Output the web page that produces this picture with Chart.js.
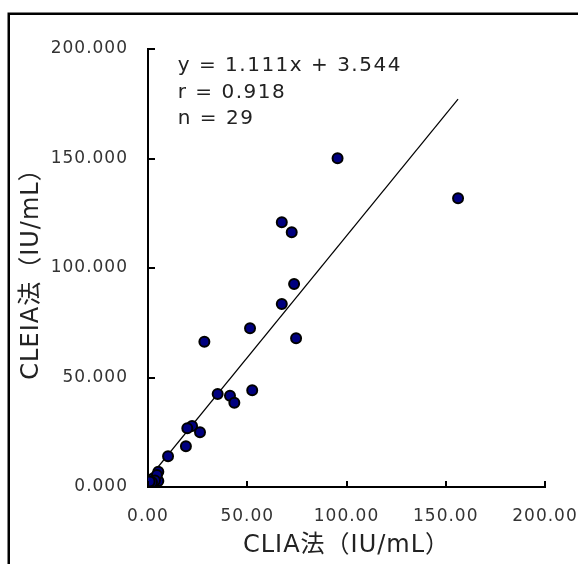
<!DOCTYPE html>
<html>
<head>
<meta charset="utf-8">
<script src="https://cdn.jsdelivr.net/npm/chart.js@4/dist/chart.umd.min.js"></script>
<style>
  html, body { margin: 0; padding: 0; background: #fff; }
  #wrap { width: 578px; height: 564px; position: relative; }
</style>
</head>
<body>
<div id="wrap"><canvas id="c" width="578" height="564"></canvas></div>
<script>
// ---- data ----
const clia  = [95.5, 156.2, 67.4, 72.4, 73.6, 67.4, 51.4, 74.6, 28.4, 52.5, 35.1, 41.3, 43.5, 22.2, 19.8, 26.2, 19.1, 10.1, 5.2, 5.2, 2.7, 1.0, 0.2, 4.5, 3.5, 1.5, 0.5, 2.0, 0.8];
const cleia = [150.1, 131.8, 120.9, 116.3, 92.7, 83.6, 72.5, 67.9, 66.3, 44.2, 42.5, 41.7, 38.5, 27.9, 26.8, 25.0, 18.6, 14.0, 7.0, 2.7, 4.0, 1.2, 0.2, 5.5, 3.0, 0.5, 0.8, 2.2, 2.5];
const slope = 1.111;
const intercept = 3.544;
const statLines = ['y = 1.111x + 3.544', 'r = 0.918', 'n = 29'];
const xTickLabels = ['0.00', '50.00', '100.00', '150.00', '200.00'];
const yTickLabels = ['0.000', '50.000', '100.000', '150.000', '200.000'];
const xTitle = 'CLIA法（IU/mL）';
const yTitle = 'CLEIA法（IU/mL）';

const points = clia.map((x, i) => ({ x: x, y: cleia[i] }));
const xMin = Math.min(...clia), xMax = Math.max(...clia);
const trend = [xMin, xMax].map(x => ({ x: x, y: slope * x + intercept }));

const FONT = "'DejaVu Sans', 'Noto Sans CJK JP', sans-serif";
const TXT = '#333333';

const decor = {
  id: 'decor',
  beforeUpdate(chart) { chart.ctx.letterSpacing = '1px'; },
  beforeDraw(chart) {
    const ctx = chart.ctx;
    ctx.save();
    ctx.fillStyle = '#fff';
    ctx.fillRect(0, 0, chart.width, chart.height);
    ctx.restore();
    ctx.letterSpacing = '1px';
  },
  afterDraw(chart) {
    const ctx = chart.ctx;
    const xs = chart.scales.x, ys = chart.scales.y;
    ctx.save();
    // inward tick marks
    ctx.strokeStyle = '#000';
    ctx.lineWidth = 2;
    ctx.beginPath();
    xs.ticks.forEach(t => {
      const px = Math.round(xs.getPixelForValue(t.value));
      ctx.moveTo(px, ys.bottom);
      ctx.lineTo(px, ys.bottom - 6);
    });
    ys.ticks.forEach(t => {
      const py = Math.round(ys.getPixelForValue(t.value));
      ctx.moveTo(xs.left, py);
      ctx.lineTo(xs.left + 7, py);
    });
    ctx.stroke();
    // outer frame
    ctx.lineWidth = 2.5;
    ctx.strokeRect(8.75, 13.75, 800, 800);
    // statistics text
    ctx.fillStyle = '#222';
    ctx.font = "20px " + FONT;
    ctx.letterSpacing = '1.5px';
    ctx.textAlign = 'left';
    ctx.textBaseline = 'middle';
    const rowVals = [192.2, 179.9, 168.0];
    statLines.forEach((s, i) => {
      ctx.fillText(s, xs.getPixelForValue(15), ys.getPixelForValue(rowVals[i]));
    });
    ctx.restore();
  }
};

new Chart(document.getElementById('c'), {
  type: 'scatter',
  data: {
    datasets: [
      {
        type: 'line',
        data: trend,
        borderColor: '#000',
        borderWidth: 1.2,
        pointRadius: 0,
        fill: false,
        order: 2
      },
      {
        data: points,
        backgroundColor: '#000080',
        borderColor: '#000',
        borderWidth: 2,
        pointRadius: 5,
        pointHoverRadius: 5,
        order: 1
      }
    ]
  },
  options: {
    responsive: false,
    devicePixelRatio: 1,
    animation: false,
    events: [],
    layout: { padding: { top: 49, right: 33, left: 0, bottom: 0 } },
    plugins: { legend: { display: false }, tooltip: { enabled: false } },
    scales: {
      x: {
        type: 'linear',
        min: 0, max: 200,
        afterFit(s) { s.height = 77; s.paddingRight = 0; s.paddingLeft = 0; },
        grid: { display: true, color: 'rgba(0,0,0,0)', drawTicks: false },
        border: { display: true, color: '#000', width: 2 },
        ticks: {
          stepSize: 50, autoSkip: false, maxRotation: 0, padding: 19,
          color: TXT, font: { family: FONT, size: 17 },
          callback: (v, i) => xTickLabels[i]
        },
        title: {
          display: true, text: xTitle, color: '#222',
          font: { family: FONT, size: 24, lineHeight: '28px' }
        }
      },
      y: {
        type: 'linear',
        min: 0, max: 200,
        afterFit(s) { s.width = 148; s.paddingTop = 0; s.paddingBottom = 0; },
        grid: { display: true, color: 'rgba(0,0,0,0)', drawTicks: false },
        border: { display: true, color: '#000', width: 2 },
        ticks: {
          stepSize: 50, padding: 20,
          color: TXT, font: { family: FONT, size: 17 },
          callback: (v, i) => yTickLabels[i]
        },
        title: {
          display: true, text: yTitle, color: '#222',
          font: { family: FONT, size: 24, lineHeight: '56px' }
        }
      }
    }
  },
  plugins: [decor]
});
</script>
</body>
</html>
